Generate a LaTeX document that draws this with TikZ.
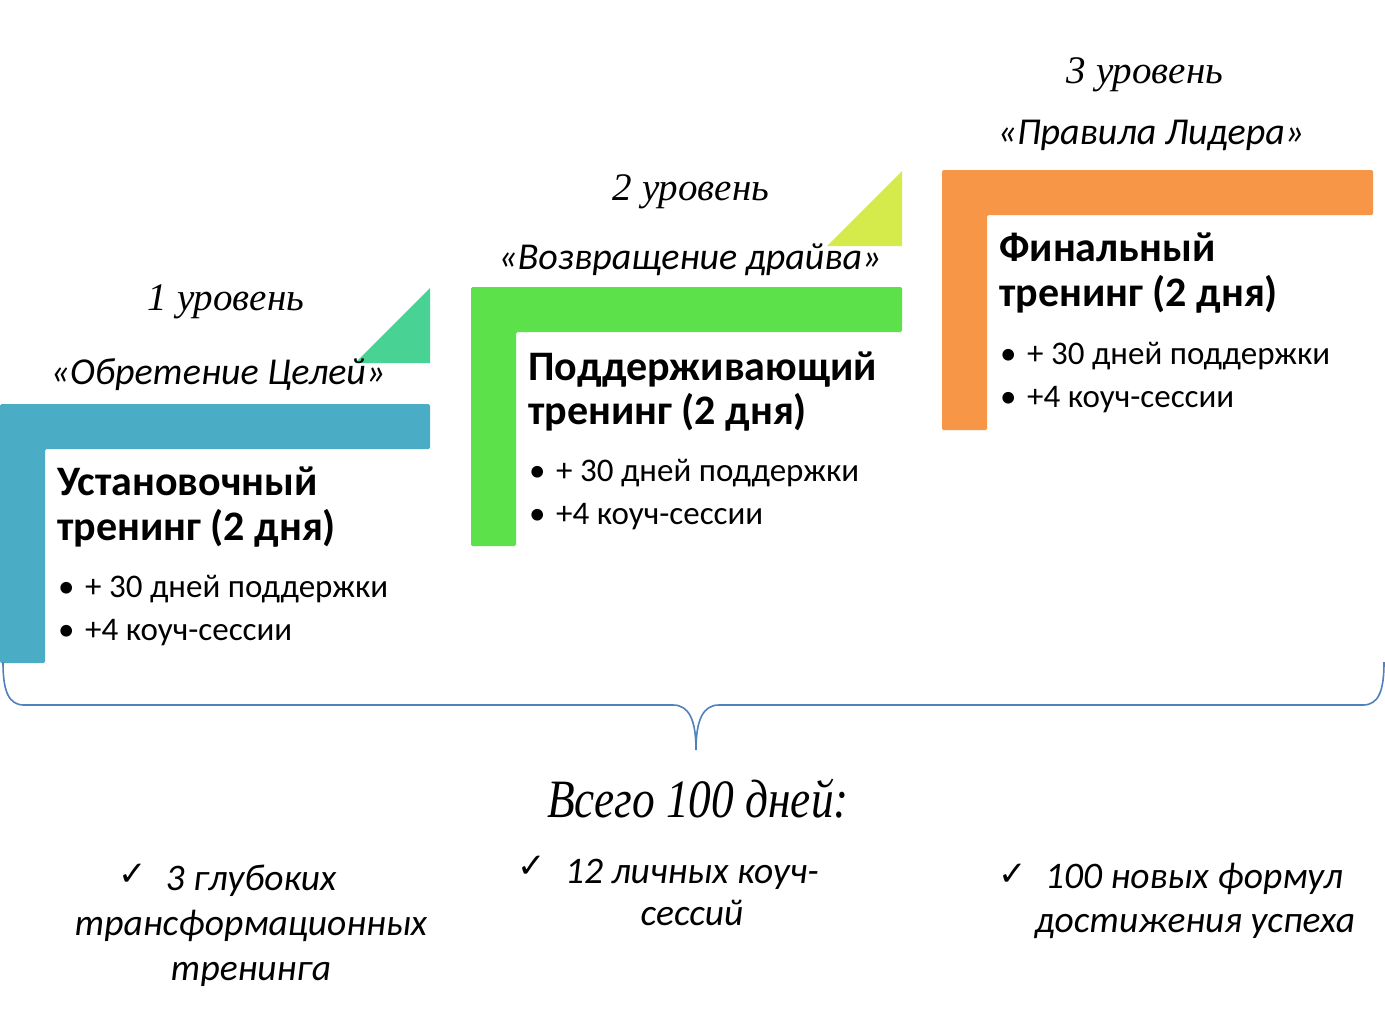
\documentclass[tikz,border=0pt]{standalone}
\usepackage{fontspec}
\setmainfont{Carlito}
\newfontfamily\handfont{Liberation Serif}
\newfontfamily\handnarrow[FakeStretch=0.84]{Liberation Serif}
\newfontfamily\symfont{DejaVu Sans}
\definecolor{cblue}{HTML}{4BACC6}
\definecolor{cgreen}{HTML}{5CE14B}
\definecolor{corange}{HTML}{F79646}
\definecolor{ctriA}{HTML}{48D394}
\definecolor{ctriB}{HTML}{D4EB4B}
\definecolor{cbrace}{HTML}{4F81BD}
\tikzset{
  hand/.style={font=\handfont\itshape\fontsize{39}{46}\selectfont, inner sep=0pt},
  handbig/.style={font=\handnarrow\itshape\fontsize{54}{60}\selectfont, inner sep=0pt},
  subt/.style={font=\itshape\fontsize{38}{44}\selectfont, inner sep=0pt},
  head/.style={font=\bfseries\fontsize{42}{50}\selectfont, inner sep=0pt, anchor=base west},
  bul/.style={font=\fontsize{33}{39}\selectfont, inner sep=0pt, anchor=base west},
  itm/.style={font=\itshape\fontsize{37.5}{44}\selectfont, inner sep=0pt, anchor=base},
  chk/.style={font=\symfont\fontsize{34}{40}\selectfont, inner sep=0pt, anchor=base},
  bracepath/.style={draw=cbrace, line width=1.6pt}
}
\begin{document}
\begin{tikzpicture}[x=1pt,y=-1pt]
\useasboundingbox (0,0) rectangle (1385,1013);
\fill[white] (0,0) rectangle (1385,1013);

% level shapes
\fill[cblue, rounded corners=1.5pt] (0,404) -- (430,404) -- (430,449) -- (45,449) -- (45,663) -- (0,663) -- cycle;
\fill[ctriA] (430,288) -- (430,363) -- (355,363) -- cycle;
\fill[cgreen, rounded corners=1.5pt] (471,287) -- (902,287) -- (902,332) -- (516,332) -- (516,546) -- (471,546) -- cycle;
\fill[ctriB] (902,171) -- (902,246) -- (827,246) -- cycle;
\fill[corange, rounded corners=1.5pt] (942,170) -- (1373,170) -- (1373,215) -- (987,215) -- (987,430) -- (942,430) -- cycle;

% level titles
\node[hand, anchor=base] (t1) at (226,310) {1 уровень};
\node[hand, anchor=base] (t2) at (691,200) {2 уровень};
\node[hand, anchor=base] (t3) at (1145,83) {3 уровень};

\node[subt, anchor=base] (s1) at (218,384) {«Обретение Целей»};
\node[subt, anchor=base] (s2) at (690,269) {«Возвращение драйва»};
\node[subt, anchor=base] (s3) at (1151,144) {«Правила Лидера»};

% level 1 text
\node[head] (h1a) at (57,495) {Установочный};
\node[head] (h1b) at (57,540) {тренинг (2 дня)};
\node[bul] (d1a) at (58,597) {•};
\node[bul] (b1a) at (85,597) {+ 30 дней поддержки};
\node[bul] (d1b) at (58,640) {•};
\node[bul] (b1b) at (85,640) {+4 коуч-сессии};

% level 2 text
\node[head] (h2a) at (528,380) {Поддерживающий};
\node[head] (h2b) at (528,424) {тренинг (2 дня)};
\node[bul] (d2a) at (529,481) {•};
\node[bul] (b2a) at (556,481) {+ 30 дней поддержки};
\node[bul] (d2b) at (529,524) {•};
\node[bul] (b2b) at (556,524) {+4 коуч-сессии};

% level 3 text
\node[head] (h3a) at (999,261) {Финальный};
\node[head] (h3b) at (999,306) {тренинг (2 дня)};
\node[bul] (d3a) at (1000,364) {•};
\node[bul] (b3a) at (1027,364) {+ 30 дней поддержки};
\node[bul] (d3b) at (1000,407) {•};
\node[bul] (b3b) at (1027,407) {+4 коуч-сессии};

% brace
\coordinate (bl) at (3,662);
\coordinate (bm) at (696,750);
\coordinate (br) at (1384,662);
\draw[bracepath] (bl) .. controls (3,690) and (8,705) .. (24,705) -- (673,705)
  .. controls (689,705) and (696,720) .. (bm)
  .. controls (696,720) and (703,705) .. (719,705) -- (1363,705)
  .. controls (1379,705) and (1384,690) .. (br);

\node[handbig, anchor=base] (total) at (698,817) {Всего 100 дней:};

% bottom items
\node[chk] (c1) at (133,885) {✓};
\node[itm] (i1a) at (251,890) {3 глубоких};
\node[itm] (i1b) at (251,935) {трансформационных};
\node[itm] (i1c) at (251,980) {тренинга};

\node[chk] (c2) at (532,877) {✓};
\node[itm] (i2a) at (692,883) {12 личных коуч-};
\node[itm] (i2b) at (692,925) {сессий};

\node[chk] (c3) at (1013,885) {✓};
\node[itm] (i3a) at (1194,888) {100 новых формул};
\node[itm] (i3b) at (1195,932) {достижения успеха};
\end{tikzpicture}
\end{document}
